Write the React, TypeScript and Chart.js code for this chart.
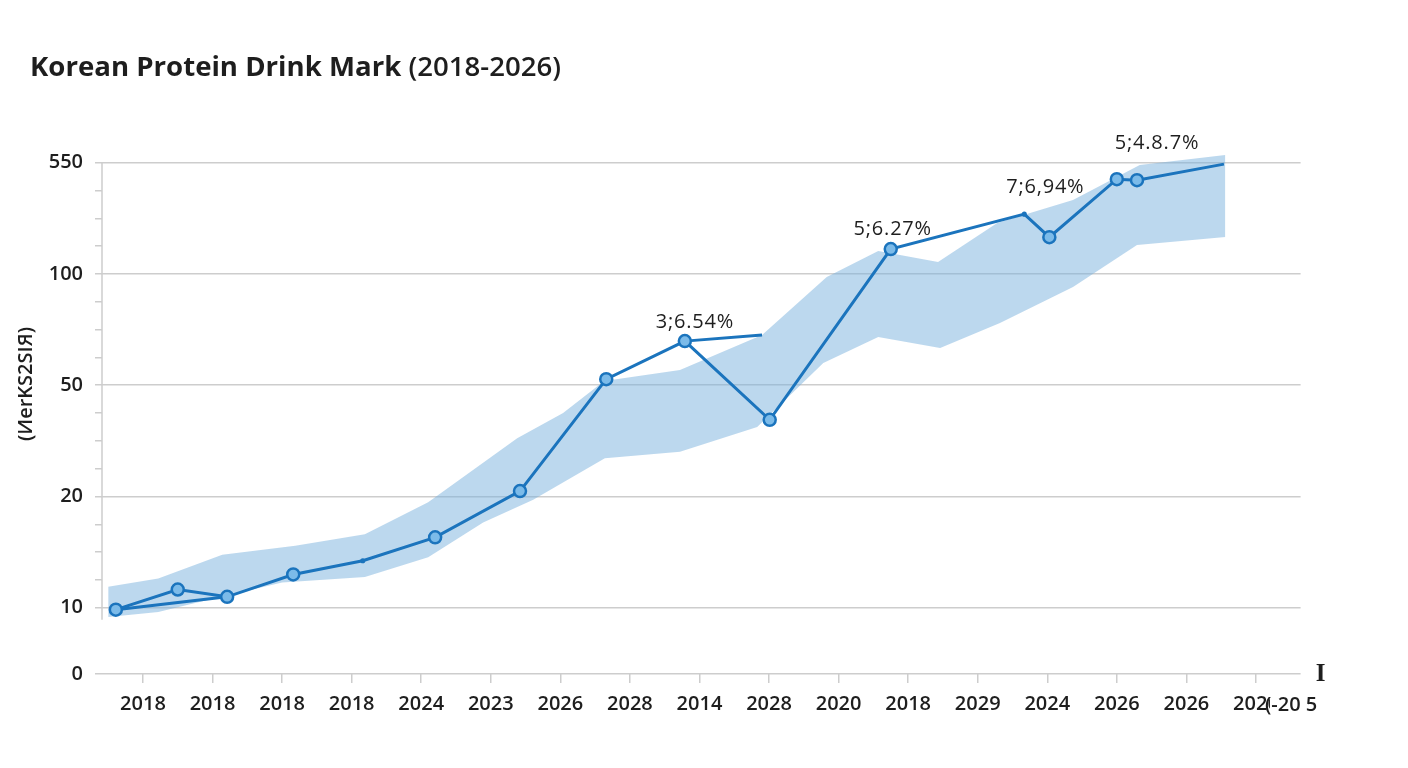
import React, { useEffect, useRef } from "react";
import { Chart, registerables } from "chart.js";

Chart.register(...registerables);

// ---------- data ----------
const titleMain = "Korean Protein Drink Mark";
const titleRange = "(2018-2026)";
const yAxisTitle = "(ИerKS2SIЯ)";

const xTickLabels = [
  "2018", "2018", "2018", "2018", "2024", "2023", "2026", "2028", "2014",
  "2028", "2020", "2018", "2029", "2024", "2026", "2026", "2026",
];
const xTrailingText = "(-20 5";
const xAxisEndMark = "I";

const yTickValues = [0, 10, 20, 50, 100, 550];
const yTickLabels = ["0", "10", "20", "50", "100", "550"];

// main series (x = position along the category axis)
const lineX = [-0.39, 0.5, 1.21, 2.16, 3.16, 4.2, 5.42, 6.66, 7.79, 9.01, 10.75, 12.67, 13.03, 14.0, 14.29, 15.54];
const lineY = [9.7, 11.2, 10.7, 12.3, 13.4, 15.5, 20.9, 51.9, 65.8, 37.6, 146.5, 250, 175.8, 427, 421, 538];
const lineMarker = [1, 1, 1, 1, 0, 1, 1, 1, 1, 1, 1, 0, 1, 1, 1, -1];

// extra connecting segments (pairs)
const branchX = [-0.39, 1.21, 7.79, 8.9];
const branchY = [9.7, 10.7, 65.8, 68.4];

// range band
const bandUpperX = [-0.5, 0.22, 1.14, 2.19, 3.19, 4.1, 5.38, 6.04, 6.63, 7.72, 8.9, 9.83, 10.57, 11.43, 12.28, 13.37, 14.33, 15.56];
const bandUpper = [11.4, 12.0, 13.9, 14.7, 15.8, 19.3, 32.3, 39.8, 51.3, 55.0, 68.4, 98.1, 142, 120, 218, 311, 531, 620];
const bandLowerX = [-0.5, 0.22, 0.75, 2.0, 3.19, 4.1, 4.89, 5.61, 6.64, 7.72, 8.83, 9.78, 10.57, 11.46, 12.32, 13.37, 14.29, 15.56];
const bandLower = [8.6, 9.35, 10.3, 11.7, 12.1, 13.7, 17.0, 19.6, 27.4, 28.9, 35.4, 57.4, 67.5, 63.0, 73.7, 92.2, 156, 176];

const annotationTexts = ["3;6.54%", "5;6.27%", "7;6,94%", "5;4.8.7%"];
const annotationPoint = [8, 10, 11, 14];

// ---------- scale mapping (broken axis: 0 | 10-20-50-100-550 equally spaced) ----------
const KNOT_U = [-0.596, 0, 1, 2, 3, 4];
function toAxis(v: number): number {
  if (v <= yTickValues[1]) return KNOT_U[0] + (v / yTickValues[1]) * (KNOT_U[1] - KNOT_U[0]);
  for (let i = 1; i < yTickValues.length - 1; i++) {
    const a = yTickValues[i], b = yTickValues[i + 1];
    if (v <= b) return KNOT_U[i] + Math.log(v / a) / Math.log(b / a);
  }
  const n = yTickValues.length;
  const a = yTickValues[n - 2], b = yTickValues[n - 1];
  return KNOT_U[n - 1] + Math.log(v / b) / Math.log(b / a);
}
const majorPositions = yTickValues.map(toAxis);
function yTickPositions(): number[] {
  const out: number[] = [majorPositions[0]];
  for (let i = 1; i < majorPositions.length; i++) {
    out.push(majorPositions[i]);
    if (i < majorPositions.length - 1) {
      const a = majorPositions[i], b = majorPositions[i + 1];
      for (let k = 1; k < 4; k++) out.push(a + ((b - a) * k) / 4);
    }
  }
  return out;
}
const isMajor = (u: number) => majorPositions.some((m) => Math.abs(m - u) < 1e-6);

const LINE = "#1b74bd";
const MARK_FILL = "#7cbbe9";
const BAND = "rgba(122, 178, 222, 0.5)";
const GRID = "#cdcdcd";
const TEXT = "#1e1e1e";
const FONT = "'Open Sans', 'Noto Sans', sans-serif";

const overlayPlugin = {
  id: "overlay",
  afterDraw(chart: any) {
    const { ctx, chartArea, scales } = chart;
    const xs = scales.x, ys = scales.y;
    ctx.save();
    // title
    ctx.fillStyle = TEXT;
    ctx.textBaseline = "middle";
    ctx.textAlign = "left";
    ctx.font = `700 27.6px ${FONT}`;
    ctx.fillText(titleMain, 30, 68);
    const w = ctx.measureText(titleMain + " ").width;
    ctx.font = `600 27.6px ${FONT}`;
    ctx.fillText(titleRange, 30 + w, 68);

    // y title
    ctx.save();
    ctx.translate(26, 384);
    ctx.rotate(-Math.PI / 2);
    ctx.textAlign = "center";
    ctx.font = `600 20px ${FONT}`;
    ctx.fillText(yAxisTitle, 0, 0);
    ctx.restore();

    // y axis line
    ctx.strokeStyle = GRID;
    ctx.lineWidth = 1.5;
    ctx.beginPath();
    ctx.moveTo(chartArea.left, ys.getPixelForValue(toAxis(550)));
    ctx.lineTo(chartArea.left, ys.getPixelForValue(toAxis(10)) + 12);
    ctx.stroke();

    // annotations
    const offsets = [[10, -19], [2, -20], [21, -27], [20, -37]];
    ctx.font = `500 20px ${FONT}`;
    (ctx as any).letterSpacing = "0.8px";
    ctx.textAlign = "center";
    ctx.fillStyle = TEXT;
    annotationTexts.forEach((t, i) => {
      const p = annotationPoint[i];
      const px = xs.getPixelForValue(lineX[p]) + offsets[i][0];
      const py = ys.getPixelForValue(toAxis(lineY[p])) + offsets[i][1];
      ctx.fillText(t, px, py);
    });
    (ctx as any).letterSpacing = "0px";

    // trailing x text (overlapping the last tick label)
    const tx = xs.getPixelForValue(xTickLabels.length - 1) + 9;
    const ty = chartArea.bottom + 31;
    ctx.fillStyle = "#ffffff";
    ctx.fillRect(tx + 5, ty - 14, 70, 28);
    ctx.fillStyle = TEXT;
    ctx.textAlign = "left";
    ctx.font = `600 20px ${FONT}`;
    ctx.fillText(xTrailingText, tx, ty);

    // end mark
    ctx.textAlign = "center";
    ctx.font = `bold 25px 'Liberation Serif', serif`;
    ctx.fillText(xAxisEndMark, chartArea.right + 20, chartArea.bottom + 1);
    ctx.restore();
  },
};

export default function App() {
  const ref = useRef<HTMLCanvasElement | null>(null);

  useEffect(() => {
    if (!ref.current) return;
    const mainData = lineX.map((x, i) => ({ x, y: toAxis(lineY[i]) }));
    const branchData: any[] = [];
    for (let i = 0; i < branchX.length; i += 2) {
      branchData.push({ x: branchX[i], y: toAxis(branchY[i]) });
      branchData.push({ x: branchX[i + 1], y: toAxis(branchY[i + 1]) });
      if (i + 2 < branchX.length) branchData.push({ x: (branchX[i + 1] + branchX[i + 2]) / 2, y: null });
    }
    const upperData = bandUpperX.map((x, i) => ({ x, y: toAxis(bandUpper[i]) }));
    const lowerData = bandLowerX.map((x, i) => ({ x, y: toAxis(bandLower[i]) }));

    const chart = new Chart(ref.current, {
      type: "line",
      data: {
        datasets: [
          {
            data: mainData,
            borderColor: LINE,
            borderWidth: 3,
            tension: 0,
            fill: false,
            pointRadius: lineMarker.map((m) => (m === 1 ? 6 : m === 0 ? 1.3 : 0)),
            pointBackgroundColor: MARK_FILL,
            pointBorderColor: LINE,
            pointBorderWidth: 2.5,
          },
          {
            data: branchData,
            borderColor: LINE,
            borderWidth: 3,
            tension: 0,
            fill: false,
            pointRadius: 0,
            spanGaps: false,
          },
          {
            data: upperData,
            borderWidth: 0,
            borderColor: "rgba(0,0,0,0)",
            backgroundColor: BAND,
            pointRadius: 0,
            tension: 0,
            fill: "+1",
          },
          {
            data: lowerData,
            borderWidth: 0,
            borderColor: "rgba(0,0,0,0)",
            pointRadius: 0,
            tension: 0,
            fill: false,
          },
        ] as any,
      },
      options: {
        animation: false,
        responsive: true,
        maintainAspectRatio: false,
        layout: { padding: { top: 140, right: 107.4, left: 0, bottom: 0 } },
        plugins: {
          legend: { display: false },
          tooltip: { enabled: false },
          title: { display: false },
        },
        scales: {
          x: {
            type: "linear",
            min: -0.589,
            max: 16.642,
            afterBuildTicks: (s: any) => {
              s.ticks = xTickLabels.map((_, i) => ({ value: i }));
            },
            afterFit: (s: any) => {
              s.height = 94;
            },
            ticks: {
              autoSkip: false,
              maxRotation: 0,
              padding: 9,
              color: TEXT,
              font: { family: FONT, size: 20, weight: 600 as any },
              callback: (v: any) => xTickLabels[Math.round(Number(v))] ?? "",
            },
            grid: { drawOnChartArea: false, color: GRID, tickLength: 9, lineWidth: 1.5 },
            border: { display: false },
          },
          y: {
            type: "linear",
            min: majorPositions[0],
            max: 4.204,
            afterBuildTicks: (s: any) => {
              s.ticks = yTickPositions().map((value) => ({ value }));
            },
            afterFit: (s: any) => {
              s.width = 102;
            },
            ticks: {
              padding: 12,
              color: TEXT,
              font: { family: FONT, size: 20, weight: 600 as any },
              callback: (v: any) => {
                const idx = majorPositions.findIndex((m) => Math.abs(m - Number(v)) < 1e-6);
                return idx >= 0 ? yTickLabels[idx] : "";
              },
            },
            grid: {
              color: (c: any) => (isMajor(c.tick?.value) ? GRID : "rgba(0,0,0,0)"),
              tickColor: GRID,
              tickLength: 7,
              lineWidth: 1.5,
            },
            border: { display: false },
          },
        },
      } as any,
      plugins: [overlayPlugin],
    });
    return () => chart.destroy();
  }, []);

  return (
    <div style={{ position: "fixed", left: 0, top: 0, width: 1408, height: 768, background: "#fff" }}>
      <canvas ref={ref} />
    </div>
  );
}
